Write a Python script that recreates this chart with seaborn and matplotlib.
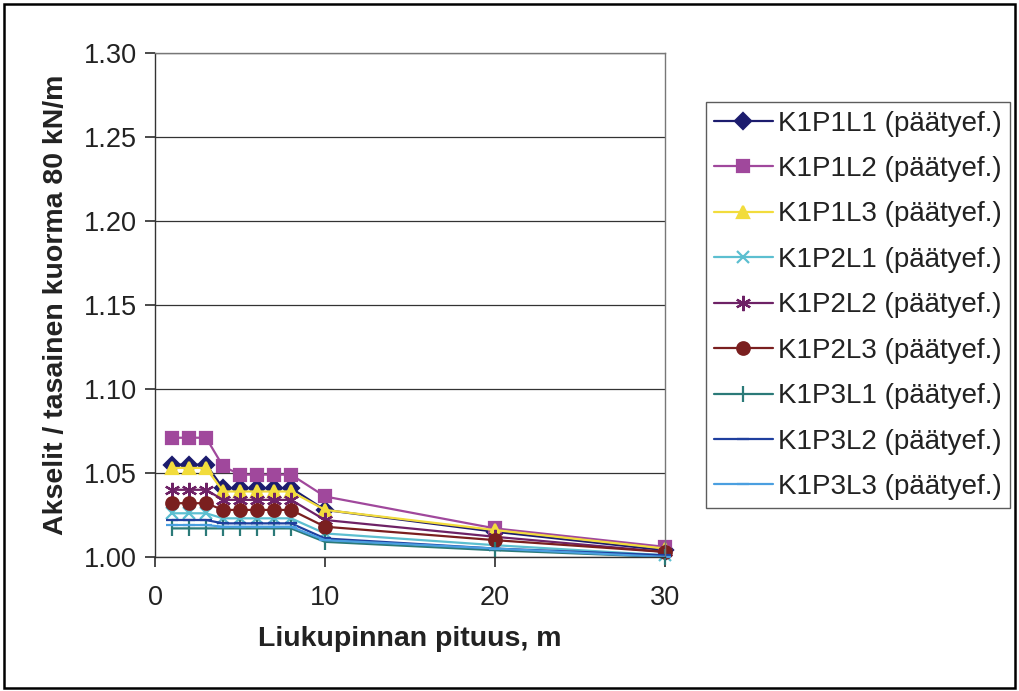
import matplotlib
matplotlib.use("Agg")
import matplotlib.pyplot as plt
import seaborn as sns
import pandas as pd
from matplotlib.patches import Rectangle

# ---- data ----
x_len = [1, 2, 3, 4, 5, 6, 7, 8, 10, 20, 30]
series_names = [
    "K1P1L1 (päätyef.)", "K1P1L2 (päätyef.)", "K1P1L3 (päätyef.)",
    "K1P2L1 (päätyef.)", "K1P2L2 (päätyef.)", "K1P2L3 (päätyef.)",
    "K1P3L1 (päätyef.)", "K1P3L2 (päätyef.)", "K1P3L3 (päätyef.)",
]
k1p1l1 = [1.055, 1.055, 1.055, 1.041, 1.041, 1.041, 1.041, 1.041, 1.028, 1.015, 1.004]
k1p1l2 = [1.071, 1.071, 1.071, 1.054, 1.049, 1.049, 1.049, 1.049, 1.036, 1.017, 1.006]
k1p1l3 = [1.053, 1.053, 1.053, 1.039, 1.039, 1.039, 1.039, 1.039, 1.028, 1.016, 1.005]
k1p2l1 = [1.026, 1.026, 1.026, 1.023, 1.023, 1.023, 1.023, 1.023, 1.014, 1.007, 1.001]
k1p2l2 = [1.040, 1.040, 1.040, 1.034, 1.034, 1.034, 1.034, 1.034, 1.022, 1.012, 1.003]
k1p2l3 = [1.032, 1.032, 1.032, 1.028, 1.028, 1.028, 1.028, 1.028, 1.018, 1.010, 1.003]
k1p3l1 = [1.017, 1.017, 1.017, 1.017, 1.017, 1.017, 1.017, 1.017, 1.009, 1.004, 1.000]
k1p3l2 = [1.022, 1.022, 1.022, 1.020, 1.020, 1.020, 1.020, 1.020, 1.011, 1.005, 1.001]
k1p3l3 = [1.019, 1.019, 1.019, 1.018, 1.018, 1.018, 1.018, 1.018, 1.010, 1.005, 1.000]
all_values = [k1p1l1, k1p1l2, k1p1l3, k1p2l1, k1p2l2, k1p2l3, k1p3l1, k1p3l2, k1p3l3]

y_ticks = [1.00, 1.05, 1.10, 1.15, 1.20, 1.25, 1.30]
x_ticks = [0, 10, 20, 30]
x_label = "Liukupinnan pituus, m"
y_label = "Akselit / tasainen kuorma 80 kN/m"

# ---- style ----
colors = ["#1c1c6e", "#a0489c", "#f2dc3c", "#5cbfd0", "#6e2266",
          "#7a1f1f", "#2b7a78", "#1f3f9e", "#4a9fe0"]
markers = ["D", "s", "^", "x", (6, 2, 0), "o", "|", "_", "_"]
msizes = [8, 9, 9, 9, 11, 9, 11, 9, 9]

sns.set_theme(style="white")
plt.rcParams["font.family"] = ["Liberation Sans", "DejaVu Sans"]

fig = plt.figure(figsize=(10.2, 6.91), dpi=100)
ax = fig.add_axes([0.152, 0.194, 0.500, 0.729])

for name, vals, c, m, ms in zip(series_names, all_values, colors, markers, msizes):
    df = pd.DataFrame({"x": x_len, "y": vals})
    sns.lineplot(data=df, x="x", y="y", ax=ax, color=c, marker=m,
                 markersize=ms, markeredgecolor=c, markeredgewidth=1.6,
                 linewidth=1.6, label=name, clip_on=False)

ax.set_xlim(0, 30)
ax.set_ylim(1.0, 1.3)
ax.set_yticks(y_ticks)
ax.set_yticklabels([f"{v:.2f}" for v in y_ticks], fontsize=19.5, color="#222222")
ax.set_xticks(x_ticks)
ax.set_xticklabels([str(v) for v in x_ticks], fontsize=19.5, color="#222222")
ax.yaxis.grid(True, color="#333333", linewidth=0.9)
ax.set_axisbelow(True)
for s in ax.spines.values():
    s.set_color("#777777")
    s.set_linewidth(1.0)
ax.spines["bottom"].set_color("#333333")
ax.spines["left"].set_color("#333333")
ax.tick_params(axis="y", direction="out", length=7, color="#333333", left=True, pad=6)
ax.tick_params(axis="x", direction="out", length=7, color="#333333", bottom=True, pad=13)
ax.set_xlabel(x_label, fontsize=20.5, fontweight="bold", labelpad=11, color="#222222")
ax.set_ylabel(y_label, fontsize=20.5, fontweight="bold", labelpad=11, color="#222222")

handles, labels = ax.get_legend_handles_labels()
ax.get_legend().remove()
leg = fig.legend(handles, labels, loc="upper left",
                 bbox_to_anchor=(0.692, 0.852), borderaxespad=0.0,
                 fontsize=20, frameon=True,
                 fancybox=False, edgecolor="#333333", handlelength=2.1,
                 handletextpad=0.2, labelspacing=0.7, borderpad=0.3,
                 labelcolor="#222222")
leg.get_frame().set_linewidth(1.0)

fig.patches.append(Rectangle((0.004, 0.005), 0.991, 0.989, transform=fig.transFigure,
                             fill=False, edgecolor="black", linewidth=1.8))

fig.savefig("out.png", dpi=100, facecolor="white")
